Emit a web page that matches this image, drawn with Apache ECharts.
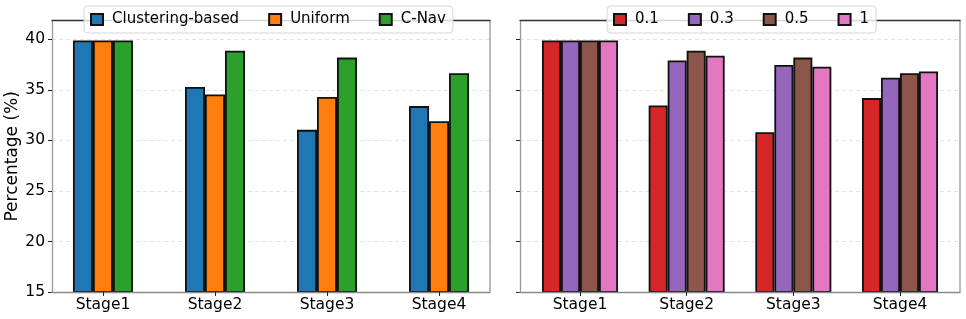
<!DOCTYPE html>
<html><head><meta charset="utf-8">
<script src="https://cdn.jsdelivr.net/npm/echarts@6/dist/echarts.min.js"></script>
<style>html,body{margin:0;padding:0;background:#fff}#c{width:966px;height:319px}</style>
</head><body><div id="c"></div>
<script>
// ---- data ----
const stages = ['Stage1', 'Stage2', 'Stage3', 'Stage4'];
const yTicks = [15, 20, 25, 30, 35, 40];
const methodNames = ['Clustering-based', 'Uniform', 'C-Nav'];
const clusteringBased = [39.9, 35.3, 31.05, 33.4];
const uniform = [39.9, 34.55, 34.3, 31.9];
const cNav = [39.9, 38.87, 38.2, 36.66];
const ratioNames = ['0.1', '0.3', '0.5', '1'];
const ratio01 = [39.9, 33.46, 30.82, 34.19];
const ratio03 = [39.9, 37.92, 37.46, 36.2];
const ratio05 = [39.9, 38.87, 38.2, 36.66];
const ratio1 = [39.9, 38.38, 37.3, 36.83];

// ---- styles ----
const FONT = 'DejaVu Sans';
const methodColors = ['#1f77b4', '#ff7f0e', '#2ca02c'];
const ratioColors = ['#d62728', '#9467bd', '#8c564b', '#e377c2'];
const tickIdx = stages.map((s, i) => i);

function toPairs(vals) { return vals.map((v, i) => [i, v]); }

function bottomX(gridIndex, min, max) {
  return {
    type: 'value', gridIndex, min, max, position: 'bottom', z: 3,
    axisLine: { show: true, onZero: false, lineStyle: { color: '#8a8a8a', width: 1.3 } },
    axisTick: { show: true, customValues: tickIdx, length: 4, inside: false, lineStyle: { color: '#222', width: 1 } },
    axisLabel: { customValues: tickIdx, formatter: v => stages[Math.round(v)], color: '#000', fontFamily: FONT, fontSize: 15.5, margin: 5 },
    splitLine: { show: false }
  };
}
function topX(gridIndex, min, max) {
  return {
    type: 'value', gridIndex, min, max, position: 'top', z: 3,
    axisLine: { show: true, onZero: false, lineStyle: { color: '#333', width: 1.3 } },
    axisTick: { show: false }, axisLabel: { show: false }, splitLine: { show: false }
  };
}
function leftY(gridIndex, showLabels, name) {
  return {
    type: 'value', gridIndex, min: 15, max: 41.85, interval: 5, position: 'left', z: 1,
    name: name || '', nameLocation: 'middle', nameGap: 30,
    nameTextStyle: { fontFamily: FONT, fontSize: 17, color: '#000' },
    axisLine: { show: true, onZero: false, lineStyle: { color: '#999', width: 1.3 } },
    axisTick: { show: true, customValues: yTicks, length: 4, lineStyle: { color: '#222', width: 1 } },
    axisLabel: { show: showLabels, customValues: yTicks, color: '#000', fontFamily: FONT, fontSize: 15.5, margin: 7 },
    splitLine: { show: true, lineStyle: { color: '#dcdcdc', type: [4, 3], width: 0.8 } }
  };
}
function rightY(gridIndex) {
  return {
    type: 'value', gridIndex, min: 15, max: 41.85, position: 'right', z: 3,
    axisLine: { show: true, onZero: false, lineStyle: { color: '#aaa', width: 1.6 } },
    axisTick: { show: false }, axisLabel: { show: false }, splitLine: { show: false }
  };
}
function barSeries(name, vals, color, xi, yi, bw) {
  return {
    type: 'bar', name, data: toPairs(vals), xAxisIndex: xi, yAxisIndex: yi,
    barWidth: bw, barGap: '0%',
    itemStyle: { color, borderColor: '#111', borderWidth: 1.8 },
    emphasis: { disabled: true }
  };
}
const legendCommon = {
  top: 6, orient: 'horizontal', icon: 'rect', itemWidth: 12, itemHeight: 11,
  itemGap: 29, padding: [6, 7, 6, 6],
  backgroundColor: 'rgba(255,255,255,0.8)', borderColor: '#d6d6d6', borderWidth: 1, borderRadius: 4,
  textStyle: { fontFamily: FONT, fontSize: 15, color: '#000', padding: [0, 0, 0, 4] },
  selectedMode: false, z: 5
};

const chart = echarts.init(document.getElementById('c'), null, { renderer: 'canvas' });
chart.setOption({
  animation: false,
  backgroundColor: '#fff',
  legend: [
    Object.assign({}, legendCommon, { left: 84, data: methodNames }),
    Object.assign({}, legendCommon, { left: 607, data: ratioNames })
  ],
  grid: [
    { left: 52, right: 476, top: 20.7, bottom: 27, containLabel: false },
    { left: 520, right: 6, top: 20.7, bottom: 27, containLabel: false }
  ],
  xAxis: [
    bottomX(0, -0.455, 3.455), topX(0, -0.455, 3.455),
    bottomX(1, -0.5625, 3.5625), topX(1, -0.5625, 3.5625)
  ],
  yAxis: [
    leftY(0, true, 'Percentage (%)'), rightY(0),
    leftY(1, false, ''), rightY(1)
  ],
  series: [
    barSeries(methodNames[0], clusteringBased, methodColors[0], 0, 0, 20),
    barSeries(methodNames[1], uniform, methodColors[1], 0, 0, 20),
    barSeries(methodNames[2], cNav, methodColors[2], 0, 0, 20),
    barSeries(ratioNames[0], ratio01, ratioColors[0], 2, 2, 19),
    barSeries(ratioNames[1], ratio03, ratioColors[1], 2, 2, 19),
    barSeries(ratioNames[2], ratio05, ratioColors[2], 2, 2, 19),
    barSeries(ratioNames[3], ratio1, ratioColors[3], 2, 2, 19)
  ]
});
</script>
</body></html>
